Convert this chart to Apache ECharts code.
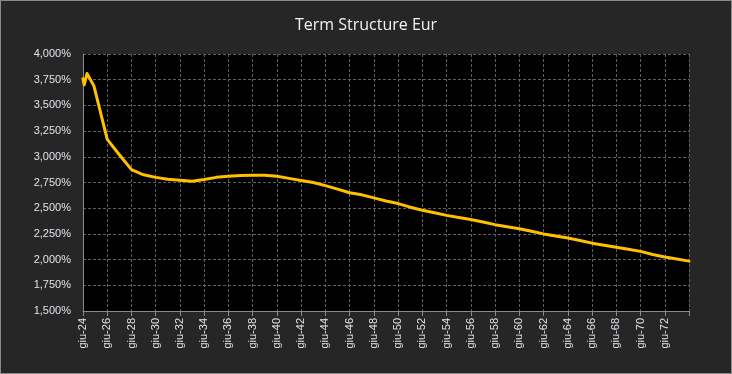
<!DOCTYPE html>
<html>
<head>
<meta charset="utf-8">
<script src="https://cdn.jsdelivr.net/npm/echarts@6/dist/echarts.min.js"></script>
<style>
html,body{margin:0;padding:0;background:#262626;}
#wrap{width:732px;height:374px;box-sizing:border-box;border:1px solid #8a8a8a;background:#262626;}
#chart{width:730px;height:372px;}
</style>
</head>
<body>
<div id="wrap"><div id="chart"></div></div>
<script>
// Maturity in years from giu-24
const maturities = [0, 0.1, 0.33, 0.9, 2, 3, 4, 5, 6, 7, 8, 9, 10, 11, 12, 13, 14, 15, 16, 17, 18, 19, 20,
  21, 22, 23, 24, 25, 26, 27, 28, 29, 30, 31, 32, 33, 34, 35, 36, 37, 38, 39, 40,
  41, 42, 43, 44, 45, 46, 47, 48, 49, 50];
// Rates in %
const rates = [3.76, 3.70, 3.81, 3.69, 3.17, 3.02, 2.875, 2.825, 2.80, 2.782, 2.772, 2.763, 2.78, 2.80, 2.81, 2.818, 2.82, 2.82, 2.81, 2.79, 2.77, 2.75, 2.72,
  2.685, 2.65, 2.63, 2.60, 2.57, 2.545, 2.51, 2.48, 2.455, 2.43, 2.41, 2.39, 2.365, 2.34, 2.32, 2.30, 2.275, 2.25, 2.23, 2.21,
  2.185, 2.16, 2.14, 2.12, 2.10, 2.08, 2.05, 2.025, 2.005, 1.985];
const startYear = 24;
const monthLabel = 'giu';
const titleText = 'Term Structure Eur';

const chart = echarts.init(document.getElementById('chart'), null, {renderer: 'canvas'});
const labelColor = '#dde3ea';
chart.setOption({
  backgroundColor: '#262626',
  animation: false,
  title: {
    text: titleText,
    left: 'center',
    top: 11,
    textStyle: {color: '#f2f2f2', fontFamily: 'Open Sans', fontSize: 16, fontWeight: 'normal'}
  },
  grid: {left: 82, right: 42, top: 53, bottom: 62, backgroundColor: '#000000', show: true, borderWidth: 0},
  xAxis: {
    type: 'value',
    min: 0, max: 50, interval: 2,
    axisLine: {show: true, lineStyle: {color: '#8c8c8c', width: 1}},
    axisTick: {show: true, length: 5, lineStyle: {color: '#8c8c8c'}},
    axisLabel: {
      rotate: 90, margin: 7, color: labelColor, fontFamily: 'Liberation Sans', fontSize: 11,
      formatter: v => v >= 50 ? '' : monthLabel + '-' + String(startYear + v)
    },
    splitLine: {show: true, lineStyle: {color: '#5e5e5e', type: [3, 2], width: 1}}
  },
  yAxis: {
    type: 'value',
    min: 1.5, max: 4, interval: 0.25,
    axisLine: {show: true, lineStyle: {color: '#8c8c8c', width: 1}},
    axisTick: {show: false},
    axisLabel: {
      margin: 12, color: labelColor, fontFamily: 'Liberation Sans', fontSize: 11,
      formatter: v => v.toFixed(3).replace('.', ',') + '%'
    },
    splitLine: {show: true, lineStyle: {color: '#5e5e5e', type: [3, 2], width: 1}}
  },
  series: [{
    type: 'line',
    data: maturities.map((m, i) => [m, rates[i]]),
    showSymbol: false,
    smooth: false,
    lineStyle: {color: '#FFC000', width: 3, join: 'round', cap: 'round'},
    itemStyle: {color: '#FFC000'}
  }]
});
</script>
</body>
</html>
